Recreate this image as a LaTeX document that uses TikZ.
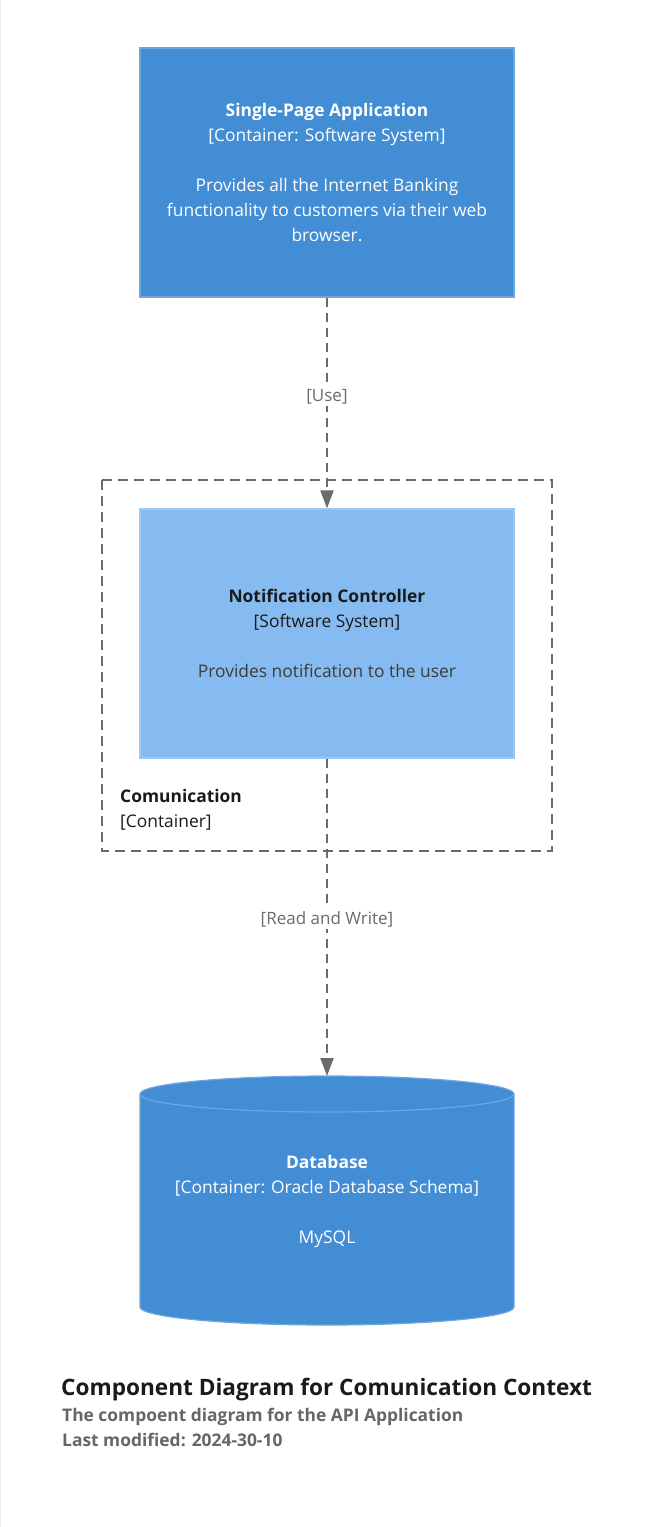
\documentclass[tikz,border=0pt]{standalone}
\usepackage{fontspec}
\setmainfont{Open Sans}
\usetikzlibrary{arrows.meta}
\definecolor{spablue}{HTML}{438DD5}
\definecolor{spaline}{HTML}{6FA6DE}
\definecolor{ncblue}{HTML}{85BBF0}
\definecolor{ncline}{HTML}{9DC8F2}
\definecolor{edgegray}{HTML}{6B6B6B}
\definecolor{darktext}{HTML}{1A1A1A}
\definecolor{subgray}{HTML}{666666}
\tikzset{
  boxtext/.style={font=\fontsize{17.4}{25}\selectfont, align=center},
  spabox/.style={rectangle, fill=spablue, draw=spaline, line width=1.2pt, minimum width=374pt, minimum height=249pt, inner sep=0pt, text=white, boxtext},
  ncbox/.style={rectangle, fill=ncblue, draw=ncline, line width=1.2pt, minimum width=374pt, minimum height=249pt, inner sep=0pt, text=darktext, boxtext},
  rel/.style={draw=edgegray, line width=2pt, dash pattern=on 9pt off 6pt, -{Triangle[width=13pt,length=18pt]}},
  rellabel/.style={fill=white, text=edgegray, font=\fontsize{17}{20}\selectfont, inner sep=2pt},
  boundary/.style={draw=edgegray, line width=2pt, dash pattern=on 10pt off 6pt},
}
\begin{document}
\begin{tikzpicture}[x=1pt, y=-1pt]
\useasboundingbox (0,0) rectangle (654,1527);
\fill[white] (0,0) rectangle (654,1527);
\draw[black!8, line width=1pt] (0.5,0) -- (0.5,1527);

% container boundary
\draw[boundary] (102,480) rectangle (552,851);
\node[anchor=base west, text=darktext, font=\fontsize{17.4}{20}\selectfont\bfseries, inner sep=0pt] (bndname) at (120,802) {Comunication};
\node[anchor=base west, text=darktext, font=\fontsize{17.4}{20}\selectfont, inner sep=0pt] (bndtype) at (120,827) {[Container]};

% single page application
\node[spabox] (spa) at (327,172.5) {{\bfseries Single-Page Application}\\ {[Container: Software System]}\\[25pt] Provides all the Internet Banking\\ functionality to customers via their web\\ browser.};

% notification controller
\node[ncbox] (nc) at (327,633.5) {{\bfseries Notification Controller}\\ {[Software System]}\\[25pt] {\color{darktext!85}Provides notification to the user}};

% database cylinder
\filldraw[fill=spablue, draw=spaline, line width=1.2pt]
  (140,1094) -- (140,1307) arc[start angle=180, end angle=360, x radius=187pt, y radius=18pt]
  -- (514,1094) arc[start angle=0, end angle=-180, x radius=187pt, y radius=-18pt] -- cycle;
\draw[spaline, line width=1.2pt] (140,1094) arc[start angle=180, end angle=360, x radius=187pt, y radius=18pt];
\coordinate (dbtop) at (327,1076);
\node[boxtext, text=white] (db) at (327,1201) {{\bfseries Database}\\ {[Container: Oracle Database Schema]}\\[25pt] MySQL};

% relationships
\draw[rel] (spa.south) -- node[rellabel, pos=0.47] (uselbl) {[Use]} (nc.north);
\draw[rel] (nc.south) -- node[rellabel, pos=0.506] (rwlbl) {[Read and Write]} (dbtop);

% title
\node[anchor=base west, inner sep=0pt, text=darktext, font=\fontsize{22.6}{26}\selectfont\bfseries] (title) at (61,1395) {Component Diagram for Comunication Context};
\node[anchor=base west, inner sep=0pt, text=subgray, font=\fontsize{17.4}{20}\selectfont\bfseries] (sub1) at (62,1421) {The compoent diagram for the API Application};
\node[anchor=base west, inner sep=0pt, text=subgray, font=\fontsize{17.4}{20}\selectfont\bfseries] (sub2) at (62,1446) {Last modified: 2024-30-10};
\end{tikzpicture}
\end{document}
